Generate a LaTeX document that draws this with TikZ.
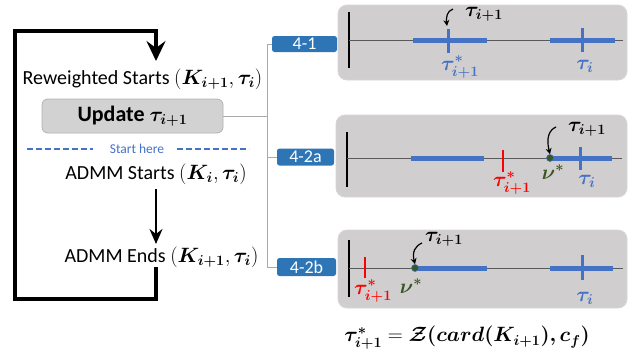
\documentclass[tikz,border=0pt]{standalone}
\usepackage{amsmath}
\usepackage{bm}
\usepackage{fontspec}
\setmainfont{Carlito}
\usetikzlibrary{arrows.meta}
\definecolor{panelgray}{RGB}{208,206,206}
\definecolor{boxgray}{RGB}{210,210,210}
\definecolor{barblue}{RGB}{68,114,196}
\definecolor{tagblue}{RGB}{46,117,182}
\definecolor{conngray}{RGB}{170,170,170}
\definecolor{dotgreen}{RGB}{56,87,35}
\definecolor{axisgray}{RGB}{90,90,90}
\tikzset{
  panel/.style={fill=panelgray, draw=panelgray!85!white, line width=0.8pt, rounded corners=9pt},
  tag/.style={fill=tagblue, rounded corners=2.5pt, text=white, font=\fontsize{18}{20}\selectfont, inner sep=0pt},
  steptext/.style={font=\fontsize{20}{24}\selectfont, anchor=base, inner sep=0pt},
  loopline/.style={line width=4pt},
  bar/.style={barblue, line width=5pt},
  bluetick/.style={barblue, line width=3pt},
  redtick/.style={red, line width=2.5pt},
  axis/.style={axisgray, line width=1pt},
  vaxis/.style={black, line width=1.2pt},
  lab/.style={font=\fontsize{22}{24}\selectfont, inner sep=0pt},
  curvearrow/.style={line width=1.2pt, -{Stealth[length=6pt,width=6pt]}},
  conn/.style={conngray, line width=1pt},
  gdot/.style={circle, fill=dotgreen, draw=barblue, line width=0.6pt, inner sep=0pt, minimum size=7pt}
}
\begin{document}
\begin{tikzpicture}[x=1pt,y=-1pt]
\useasboundingbox (0,0) rectangle (628,354);

% ---------- left flow ----------
\node[steptext] (rw) at (142.5,84) {Reweighted Starts $(\bm{K_{i+1}},\bm{\tau_i})$};
\node[fill=boxgray, draw=gray!60, line width=0.8pt, rounded corners=6pt, minimum width=181pt, minimum height=34pt, inner sep=0pt, font=\fontsize{22}{26}\selectfont\bfseries] (upd) at (132.5,116) {Update $\bm{\tau_{i+1}}$};
\node[text=barblue, font=\fontsize{13.5}{16}\selectfont, inner sep=0pt] (sh) at (137,149) {Start here};
\node[steptext] (as) at (156,179) {ADMM Starts $(\bm{K_i},\bm{\tau_i})$};
\node[steptext] (ae) at (161.5,262) {ADMM Ends $(\bm{K_{i+1}},\bm{\tau_i})$};

\coordinate (dl1) at (27,149);  \coordinate (dl2) at (93,149);
\coordinate (dr1) at (177,149); \coordinate (dr2) at (249,149);
\draw[barblue, line width=1.6pt, dash pattern=on 6pt off 3pt] (dl1) -- (dl2);
\draw[barblue, line width=1.6pt, dash pattern=on 6pt off 3pt] (dr1) -- (dr2);

\coordinate (c1) at (155.5,267);
\coordinate (c2) at (155.5,299);
\coordinate (c3) at (15,299);
\coordinate (c4) at (15,31);
\coordinate (c5) at (156,31);
\coordinate (c6) at (156,61);
\draw[loopline, line join=miter, -{Stealth[length=20pt,width=19pt,inset=7pt]}] (c1) -- (c2) -- (c3) -- (c4) -- (c5) -- (c6);

\coordinate (m1) at (156,189);
\coordinate (m2) at (156,244);
\draw[line width=2.5pt, -{Stealth[length=15pt,width=13pt,inset=5pt]}] (m1) -- (m2);

% ---------- tags and tree ----------
\node[tag, minimum width=65pt, minimum height=16pt] (t1) at (304.5,44) {4-1};
\node[tag, minimum width=57pt, minimum height=17pt] (t2) at (305.5,157) {4-2a};
\node[tag, minimum width=59pt, minimum height=18pt] (t3) at (306.5,267) {4-2b};
\coordinate (trunk) at (267,116);
\draw[conn] (upd.east) -- (trunk);
\draw[conn] (trunk) |- (t1.west);
\draw[conn] (trunk) |- (t2.west);
\draw[conn] (trunk) |- (t3.west);

% ---------- panels ----------
\node[panel, minimum width=289pt, minimum height=75pt, inner sep=0pt] (p1) at (482.5,42.5) {};
\node[panel, minimum width=291pt, minimum height=82pt, inner sep=0pt] (p2) at (481.5,156) {};
\node[panel, minimum width=289pt, minimum height=78pt, inner sep=0pt] (p3) at (482.5,269) {};

% panel 1
\draw[vaxis] (349,12) -- (349,68);
\draw[axis] (349,40) -- (623,40);
\draw[bar] (413,40) -- (487,40);
\draw[bar] (550,40) -- (615,40);
\draw[bluetick] (448,29) -- (448,53);
\draw[bluetick] (582,28) -- (582,52);
\node[lab, text=barblue] (p1s) at (460,67) {$\bm{\tau^*_{i+1}}$};
\node[lab, text=barblue] (p1t) at (585,66) {$\bm{\tau_i}$};
\node[lab] (p1n) at (484,14) {$\bm{\tau_{i+1}}$};
\coordinate (a1s) at (453,9);
\coordinate (a1e) at (447,26);
\draw[curvearrow] (a1s) .. controls (447,11) and (446,17) .. (a1e);

% panel 2
\draw[vaxis] (347,132) -- (347,187);
\draw[axis] (347,158) -- (622,158);
\draw[bar] (411,158) -- (484,158);
\draw[bar] (550,158) -- (612,158);
\draw[redtick] (503,150) -- (503,172);
\draw[bluetick] (580,147) -- (580,170);
\node[gdot] (v2) at (550,158) {};
\node[lab, text=red] (p2s) at (512,183) {$\bm{\tau^*_{i+1}}$};
\node[lab, text=dotgreen] (p2v) at (553,172) {$\bm{\nu^*}$};
\node[lab, text=barblue] (p2t) at (587,181) {$\bm{\tau_i}$};
\node[lab] (p2n) at (587,129) {$\bm{\tau_{i+1}}$};
\coordinate (a2s) at (556,127);
\draw[curvearrow] (a2s) .. controls (549,130) and (546,138) .. (v2.north);

% panel 3
\draw[vaxis] (349,240) -- (349,297);
\draw[axis] (349,268) -- (623,268);
\draw[redtick] (365,257) -- (365,278);
\draw[bar] (415,268) -- (487,268);
\draw[bar] (550,268) -- (613,268);
\draw[bluetick] (582,255) -- (582,280);
\node[gdot] (v3) at (415,268) {};
\node[lab, text=red] (p3s) at (373,291) {$\bm{\tau^*_{i+1}}$};
\node[lab, text=dotgreen] (p3v) at (411,286) {$\bm{\nu^*}$};
\node[lab, text=barblue] (p3t) at (585,298) {$\bm{\tau_i}$};
\node[lab] (p3n) at (444,239) {$\bm{\tau_{i+1}}$};
\coordinate (a3s) at (422,243);
\draw[curvearrow] (a3s) .. controls (415,246) and (412,252) .. (v3.north);

% formula
\node[font=\fontsize{20}{24}\selectfont, inner sep=0pt] (frm) at (467,338) {$\bm{\tau^*_{i+1}} = \bm{\mathcal{Z}(card(K_{i+1}),c_f)}$};
\end{tikzpicture}
\end{document}
